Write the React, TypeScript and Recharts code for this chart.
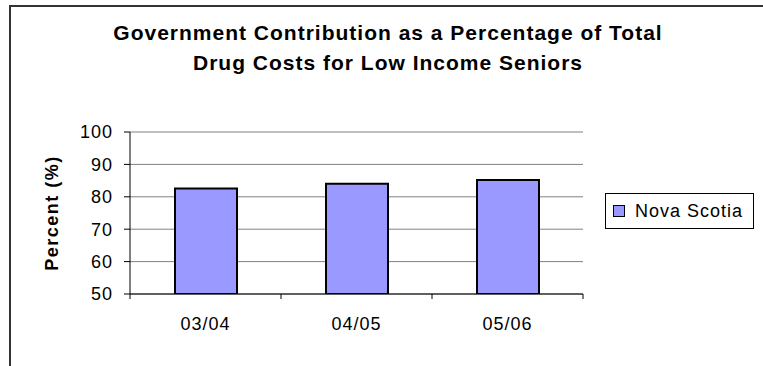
import React from "react";
import { BarChart, Bar, XAxis, YAxis, CartesianGrid } from "recharts";

// Fiscal years shown on the category axis
const years: string[] = ["03/04", "04/05", "05/06"];
// Government share of total drug costs (%)
const novaScotia: number[] = [82.6, 84.0, 85.2];
const seriesName = "Nova Scotia";
const yTicks: number[] = [50, 60, 70, 80, 90, 100];
const titleLines: string[] = [
  "Government Contribution as a Percentage of Total",
  "Drug Costs for Low Income Seniors",
];
const yLabel = "Percent (%)";

const data = years.map((year, i) => ({ year, value: novaScotia[i] }));

const FONT = "'Liberation Sans', Arial, sans-serif";
const BAR_FILL = "#9999FF";

// Category tick: label centred in the band, tick marks on band boundaries
const CategoryTick = (props: any) => {
  const { x, y, payload, index, visibleTicksCount, width } = props;
  const half =
    payload && payload.offset ? payload.offset : width / (2 * (visibleTicksCount || years.length));
  const last = index === (visibleTicksCount || years.length) - 1;
  return (
    <g>
      <line x1={x - half} x2={x - half} y1={y} y2={y + 5} stroke="#000" strokeWidth={1} />
      {last && <line x1={x + half} x2={x + half} y1={y} y2={y + 5} stroke="#000" strokeWidth={1} />}
      <text
        x={x}
        y={y + 36}
        textAnchor="middle"
        fontFamily={FONT}
        fontSize={18}
        letterSpacing={1}
        fill="#000"
      >
        {payload.value}
      </text>
    </g>
  );
};

export default function App() {
  return (
    <div
      style={{
        position: "absolute",
        left: 0,
        top: 0,
        width: 763,
        height: 366,
        background: "#fff",
        overflow: "hidden",
        fontFamily: FONT,
      }}
    >
      {/* chart area frame */}
      <div
        style={{
          position: "absolute",
          left: 9,
          top: 5,
          right: -10,
          bottom: -10,
          borderLeft: "2px solid #333",
          borderTop: "2px solid #333",
        }}
      />
      <BarChart
        width={763}
        height={366}
        data={data}
        margin={{ top: 132, right: 180, bottom: 42, left: 0 }}
        style={{ position: "absolute", left: 0, top: 0 }}
      >
        <CartesianGrid vertical={false} stroke="#808080" strokeWidth={1} />
        <XAxis
          dataKey="year"
          axisLine={{ stroke: "#000", strokeWidth: 1 }}
          tickLine={false}
          tickSize={0}
          tickMargin={0}
          height={30}
          interval={0}
          tick={<CategoryTick />}
        />
        <YAxis
          domain={[50, 100]}
          ticks={yTicks}
          width={130}
          allowDataOverflow
          axisLine={{ stroke: "#000", strokeWidth: 1 }}
          tickLine={{ stroke: "#000", strokeWidth: 1 }}
          tickSize={6}
          tickMargin={11}
          tick={{ fontSize: 18, fill: "#000", fontFamily: FONT, letterSpacing: 1 }}
        />
        <YAxis
          yAxisId="frame"
          orientation="right"
          domain={[50, 100]}
          width={0}
          tick={false}
          tickLine={false}
          axisLine={{ stroke: "#808080", strokeWidth: 1 }}
        />
        <Bar
          dataKey="value"
          name={seriesName}
          fill={BAR_FILL}
          stroke="#000"
          strokeWidth={2}
          barSize={62}
          isAnimationActive={false}
        />
      </BarChart>
      {/* title and value-axis caption */}
      <svg
        width={763}
        height={366}
        style={{ position: "absolute", left: 0, top: 0, pointerEvents: "none" }}
      >
        {titleLines.map((line, i) => (
          <text
            key={line}
            x={388}
            y={40 + i * 30}
            textAnchor="middle"
            fontFamily={FONT}
            fontWeight="bold"
            fontSize={21}
            letterSpacing={1}
            fill="#000"
          >
            {line}
          </text>
        ))}
        <text
          transform="translate(58 213) rotate(-90)"
          textAnchor="middle"
          fontFamily={FONT}
          fontWeight="bold"
          fontSize={18}
          letterSpacing={1.5}
          fill="#000"
        >
          {yLabel}
        </text>
      </svg>
      {/* legend */}
      <div
        style={{
          position: "absolute",
          left: 605,
          top: 193,
          width: 149,
          height: 36,
          border: "1px solid #000",
          boxSizing: "border-box",
          display: "flex",
          alignItems: "center",
        }}
      >
        <div
          style={{
            marginLeft: 7,
            width: 12,
            height: 12,
            boxSizing: "border-box",
            background: BAR_FILL,
            border: "1.5px solid #000",
          }}
        />
        <span style={{ marginLeft: 10, fontSize: 18, letterSpacing: 1, color: "#000" }}>
          {seriesName}
        </span>
      </div>
    </div>
  );
}
